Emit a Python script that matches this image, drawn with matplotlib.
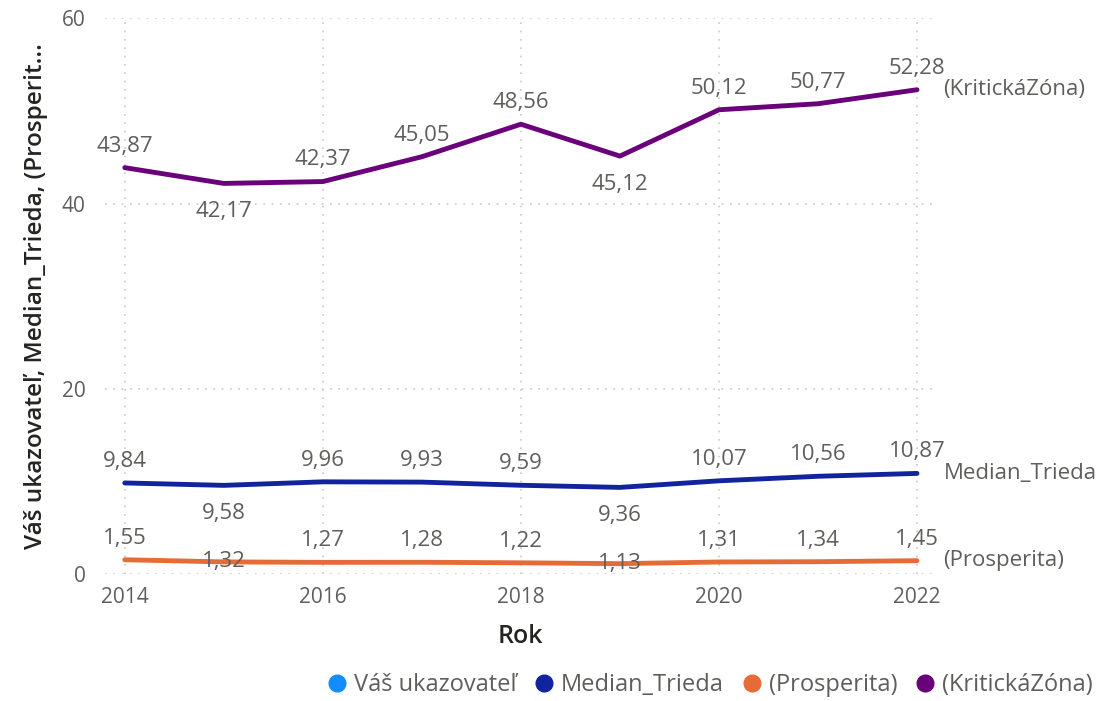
import matplotlib.pyplot as plt
from matplotlib.lines import Line2D

plt.rcParams['font.family'] = ['Open Sans', 'DejaVu Sans']

years = [2014, 2015, 2016, 2017, 2018, 2019, 2020, 2021, 2022]
kriticka = [43.87, 42.17, 42.37, 45.05, 48.56, 45.12, 50.12, 50.77, 52.28]
median = [9.84, 9.58, 9.96, 9.93, 9.59, 9.36, 10.07, 10.56, 10.87]
prosperita = [1.55, 1.32, 1.27, 1.28, 1.22, 1.13, 1.31, 1.34, 1.45]
below_idx = [1, 5]

series = [
    ('(KritickáZóna)', kriticka, '#6B007B'),
    ('Median_Trieda', median, '#12239E'),
    ('(Prosperita)', prosperita, '#E66C37'),
]
legend_items = [('Váš ukazovateľ', '#118DFF'), ('Median_Trieda', '#12239E'),
                ('(Prosperita)', '#E66C37'), ('(KritickáZóna)', '#6B007B')]

gray = '#605E5C'
fig = plt.figure(figsize=(11.05, 7.01), dpi=100)
ax = fig.add_axes([0.095, 0.181, 0.751, 0.793])

for name, vals, col in series:
    ax.plot(years, vals, color=col, lw=3.5, solid_capstyle='round')
    for i, (x, v) in enumerate(zip(years, vals)):
        lab = f'{v:.2f}'.replace('.', ',')
        if i in below_idx:
            # bottom series has no room below, label sits on the line
            dy = 0 if vals is prosperita else -13
            va = 'center' if vals is prosperita else 'top'
            ax.annotate(lab, (x, v), xytext=(0, dy), textcoords='offset points',
                        ha='center', va=va, fontsize=16, color=gray)
        else:
            ax.annotate(lab, (x, v), xytext=(0, 8), textcoords='offset points',
                        ha='center', va='bottom', fontsize=16, color=gray)
    ax.annotate(name, (years[-1], vals[-1]), xytext=(19, 0), textcoords='offset points',
                ha='left', va='center', fontsize=16, color=gray, annotation_clip=False)

ax.set_xlim(2013.8, 2022.18)
ax.set_ylim(0, 60)
ax.set_xticks([2014, 2016, 2018, 2020, 2022])
ax.set_yticks([0, 20, 40, 60])
ax.grid(True, color='#C8C8C8', linestyle=(0, (1, 4)), lw=1.2)
ax.set_axisbelow(True)
for s in ax.spines.values():
    s.set_visible(False)
ax.tick_params(axis='x', length=0, labelsize=15, labelcolor=gray, pad=9)
ax.tick_params(axis='y', length=0, labelsize=15, labelcolor=gray, pad=14)
ax.set_xlabel('Rok', fontsize=18, color='#252423', fontweight='semibold', labelpad=12)
ax.set_ylabel('Váš ukazovateľ, Median_Trieda, (Prosperit...', fontsize=17.5,
              color='#252423', fontweight='semibold', labelpad=10)

handles = [Line2D([], [], marker='o', ls='', color=c, markersize=12) for _, c in legend_items]
fig.legend(handles, [n for n, _ in legend_items], loc='lower right',
           bbox_to_anchor=(1.008, -0.025), ncol=4, frameon=False, fontsize=17,
           labelcolor=gray, handletextpad=-0.3, columnspacing=0.2)

fig.savefig('out.png', dpi=100)
